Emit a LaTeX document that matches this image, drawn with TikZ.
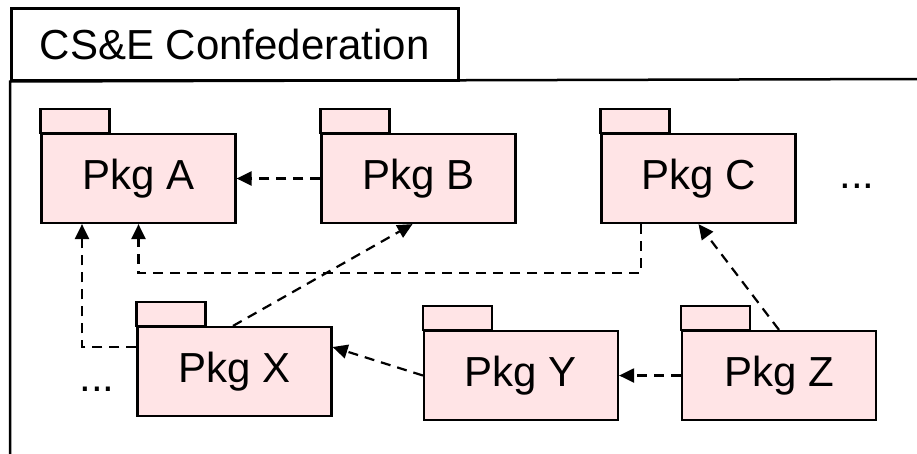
\documentclass[tikz,border=0pt]{standalone}
\usepackage{fontspec}
\setmainfont{Liberation Sans}
\usetikzlibrary{arrows.meta}
\definecolor{pkgfill}{RGB}{255,228,230}
\begin{document}
\begin{tikzpicture}[x=1pt,y=-1pt,
  txt/.style={font=\fontsize{42}{50}\selectfont},
  pkg/.style={txt,draw,fill=pkgfill,line width=2.2pt,minimum width=194pt,minimum height=89pt,inner sep=0pt},
  tabst/.style={draw,fill=pkgfill,line width=2.2pt},
  frame/.style={line width=2.5pt},
  dep/.style={line width=2.2pt,dash pattern=on 10pt off 7pt,-{Triangle[length=15pt,width=14pt]}}]
\useasboundingbox (0,0) rectangle (917,453);
\node[txt,draw,frame,minimum width=447pt,minimum height=72pt,inner sep=0pt,anchor=north west] (title) at (10,7) {CS\&E Confederation};
\coordinate (fb) at (10,460);
\coordinate (fr) at (920,79);
\draw[frame] (fb) -- (title.south west) -- (fr);

\node[pkg] (A) at (138.5,178.5) {Pkg A};
\node[pkg] (B) at (418.5,178.5) {Pkg B};
\node[pkg] (C) at (698.5,178.5) {Pkg C};
\node[pkg] (X) at (234.5,371.5) {Pkg X};
\node[pkg] (Y) at (521,375.5) {Pkg Y};
\node[pkg] (Z) at (779,375.5) {Pkg Z};
\foreach \n in {A,B,C,X,Y,Z} \draw[tabst] (\n.north west) rectangle ++(69,-24);

\node[txt] (d1) at (857,186) {...};
\node[txt] (d2) at (97,389) {...};

\draw[dep] (B) -- (A);
\draw[dep] ([xshift=-57.5pt]C.south) -- ++(0,49) -| (A.south);
\draw[dep] ([yshift=24.5pt]X.west) -| ([xshift=-56.5pt]A.south);
\draw[dep] ([xshift=-1.5pt]X.north) -- ([xshift=-6pt]B.south);
\draw[dep] (Y.west) -- ([yshift=24.5pt]X.east);
\draw[dep] (Z) -- (Y);
\draw[dep] (Z.north) -- (C.south);
\end{tikzpicture}
\end{document}
